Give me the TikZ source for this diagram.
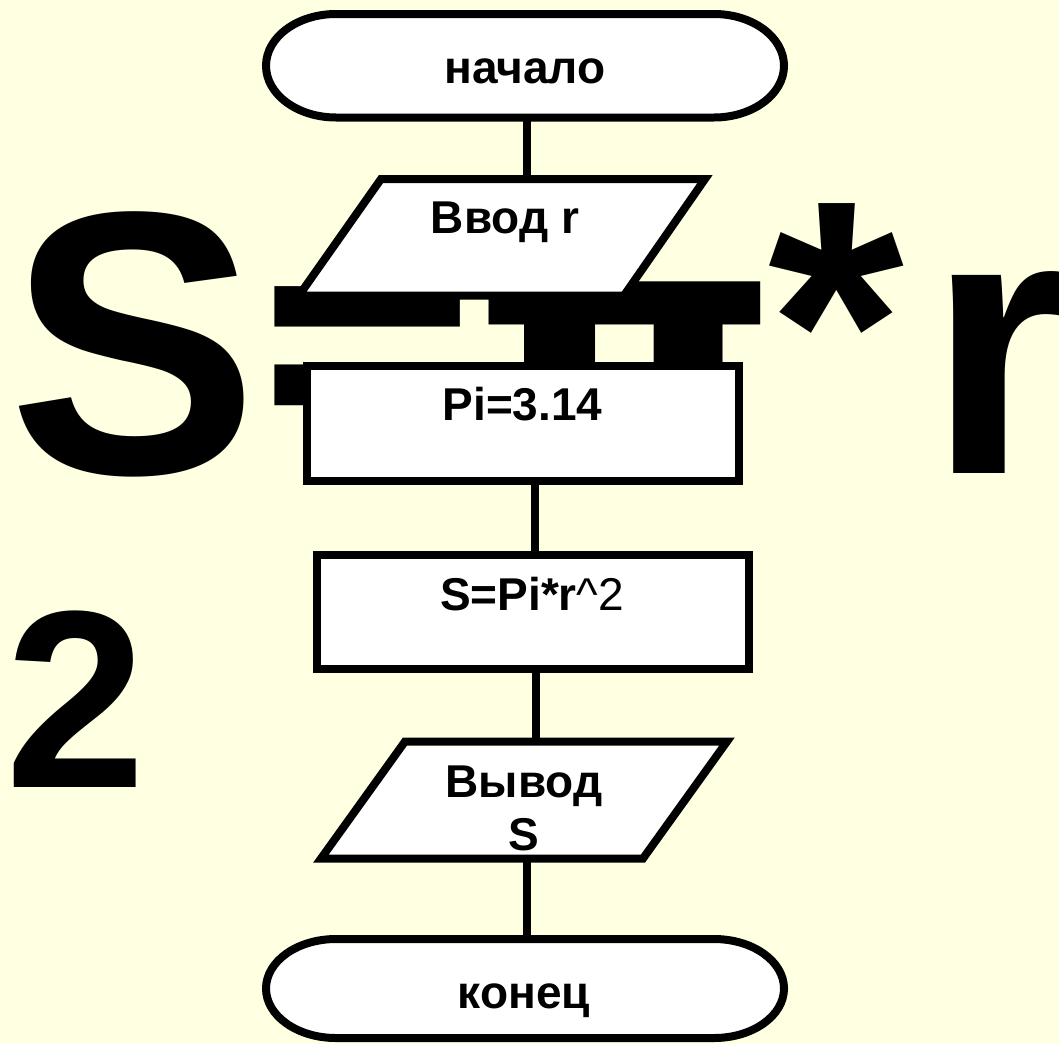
\documentclass[tikz,border=0pt]{standalone}
\usepackage{fontspec}
\setmainfont{Liberation Sans}
\newfontfamily\pifont{DejaVu Sans}
\usetikzlibrary{calc}
\definecolor{bgyellow}{RGB}{255,255,225}
\tikzset{
  shapebox/.style={draw=black, line width=8pt, fill=white, line join=miter},
  conn/.style={draw=black, line width=8pt},
  lbl/.style={inner sep=0pt, anchor=base, font=\fontsize{46}{53}\selectfont\bfseries, align=center},
  bigchar/.style={inner sep=0pt, anchor=base west, font=\fontsize{375}{375}\selectfont\bfseries},
  midchar/.style={inner sep=0pt, anchor=base west, font=\fontsize{253}{253}\selectfont\bfseries},
}
\begin{document}
\begin{tikzpicture}[x=1pt,y=-1pt]
\fill[bgyellow] (0,0) rectangle (1059,1044);
\useasboundingbox (0,0) rectangle (1059,1044);

% big background formula
\node[bigchar] (bS) at (8,473) {S};
\node[bigchar] (bEq) at (243,456) {\pifont\scalebox{0.79}[0.94]{=}};
\begin{scope}
  \clip (480,0) rectangle (766,370);
  \node[bigchar] (bPi) at (472,470) {\pifont\scalebox{1.05}[0.92]{π}};
\end{scope}
\node[bigchar] (bAst) at (768,443) {\scalebox{0.93}{*}};
\node[bigchar] (bR) at (927,473) {r};
\node[midchar] (bTwo) at (5,787) {2};

% connector end points
\coordinate (t1b) at (527,117.5);
\coordinate (p1t) at (527,179);
\coordinate (p1b) at (528,295.5);
\coordinate (r1t) at (528,366);
\coordinate (r1b) at (535,480.5);
\coordinate (r2t) at (535,555);
\coordinate (r2b) at (536,669);
\coordinate (p2t) at (536,741.5);
\coordinate (p2b) at (527,858.5);
\coordinate (t2t) at (527,939);

\draw[conn] (t1b) -- (p1t);
\draw[conn] (p1b) -- (r1t);
\draw[conn] (r1b) -- (r2t);
\draw[conn] (r2b) -- (p2t);
\draw[conn] (p2b) -- (t2t);

% start terminal
\draw[shapebox] (336,14) -- (714,14) arc[start angle=-90, end angle=90, x radius=70, y radius=51.75]
  -- (336,117.5) arc[start angle=90, end angle=270, x radius=70, y radius=51.75] -- cycle;
% input
\draw[shapebox] (381,179) -- (705,179) -- (624,295.5) -- (299,295.5) -- cycle;
% Pi box
\draw[shapebox] (307,366) rectangle (739,480.5);
% S box
\draw[shapebox] (317,555) rectangle (749,669);
% output
\draw[shapebox] (405,741.5) -- (727,741.5) -- (643,858.5) -- (321,858.5) -- cycle;
% end terminal
\draw[shapebox] (336,939) -- (714,939) arc[start angle=-90, end angle=90, x radius=70, y radius=49.5]
  -- (336,1038) arc[start angle=90, end angle=270, x radius=70, y radius=49.5] -- cycle;

% labels
\node[lbl] (lStart) at (525,83) {начало};
\node[lbl] (lIn) at (505,233) {Ввод r};
\node[lbl] (lPi) at (522.5,420) {Pi=3.14};
\node[lbl] (lS) at (532,610) {S=Pi*r{\mdseries\textasciicircum 2}};
\node[lbl] (lOut) at (524,850) {Вывод\\S};
\node[lbl] (lEnd) at (524,1008) {конец};
\end{tikzpicture}
\end{document}
